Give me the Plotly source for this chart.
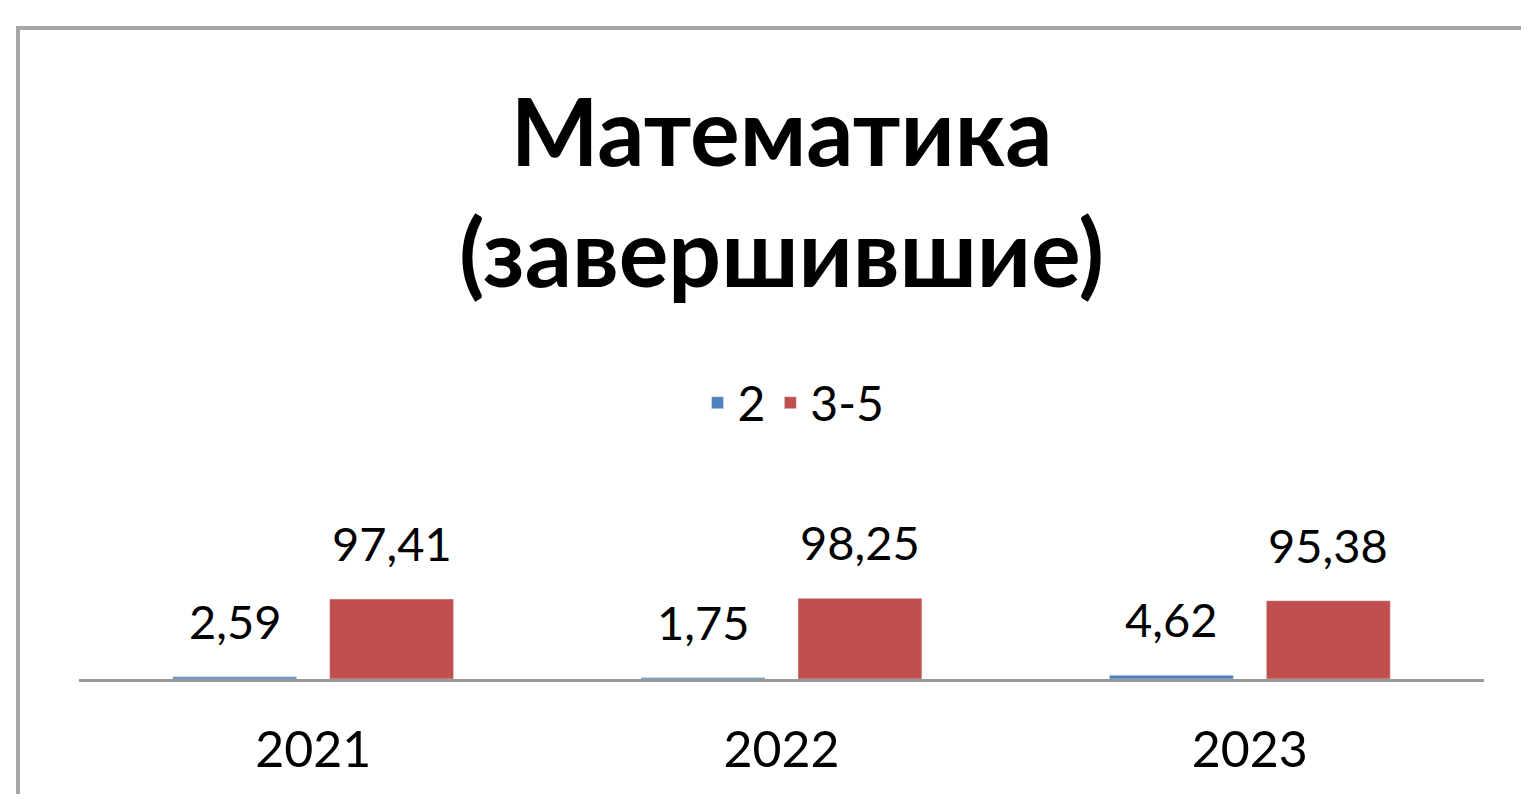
import plotly.graph_objects as go

years = ["2021", "2022", "2023"]
series_names = ["2", "3-5"]
vals_2 = [2.59, 1.75, 4.62]
vals_35 = [97.41, 98.25, 95.38]
labels_2 = ["2,59", "1,75", "4,62"]
labels_35 = ["97,41", "98,25", "95,38"]
colors = ["#4f81bd", "#c0504d"]

FONT = "Lato, 'Open Sans', sans-serif"
# page body has an 8px margin; figure placed at (8, 8)
OFF = 8
W, H = 1529 - 2 * OFF, 802 - 2 * OFF
ml, mr, mt, mb = 79 - OFF, 45 - OFF, 459 - OFF, 123 - OFF
plot_w = W - ml - mr
plot_h = H - mt - mb
bargap = 0.33
yr = 267.9

fig = go.Figure()
fig.add_trace(go.Bar(x=years, y=vals_2, name=series_names[0], marker_color=colors[0]))
fig.add_trace(go.Bar(x=years, y=vals_35, name=series_names[1], marker_color=colors[1]))

cat_w = plot_w / len(years)
off = cat_w * (1 - bargap) / 4
for lbls, vals, sgn in ((labels_2, vals_2, -1), (labels_35, vals_35, 1)):
    for i, (v, t) in enumerate(zip(vals, lbls)):
        # category axis: annotation x is the category index
        fig.add_annotation(x=i, y=v, xref="x", yref="y", text=t, showarrow=False,
                           xshift=sgn * off, yshift=56,
                           yanchor="middle", font=dict(family=FONT, size=47, color="#000"))

fig.update_layout(
    width=W, height=H,
    margin=dict(l=ml, r=mr, t=mt, b=mb),
    paper_bgcolor="white", plot_bgcolor="white",
    barmode="group", bargap=bargap, bargroupgap=0.21,
    title=dict(text="<b>Математика<br>(завершившие)</b>", x=(781.5 - OFF) / W, xanchor="center",
               y=1 - 158 / H, yanchor="middle",
               font=dict(family=FONT, size=93, color="#000")),
    legend=dict(orientation="h", x=0.5 + 12 / plot_w, xanchor="center", y=1.2545,
                yanchor="middle",
                font=dict(family=FONT, size=48, color="#000"), bgcolor="rgba(0,0,0,0)"),
    showlegend=True,
    xaxis=dict(type="category", range=[-0.5, 2.5], showline=True, linecolor="#999999", linewidth=3,
               ticks="outside", ticklen=25, tickcolor="rgba(0,0,0,0)",
               tickfont=dict(family=FONT, size=50, color="#000"),
               showgrid=False, zeroline=False),
    yaxis=dict(range=[0, yr], visible=False, showgrid=False, zeroline=False),
)

# chart border (reference pixels: left 18, top 28)
bottom_px = H - mb
fig.add_shape(type="rect", xref="paper", yref="paper",
              x0=(18 - OFF - ml) / plot_w, x1=(W + 20 - ml) / plot_w,
              y0=-(H + 20 - bottom_px) / plot_h, y1=(bottom_px - (28 - OFF)) / plot_h,
              line=dict(color="#a6a6a6", width=4), fillcolor="rgba(0,0,0,0)", layer="below")

fig.write_html("out.html")
